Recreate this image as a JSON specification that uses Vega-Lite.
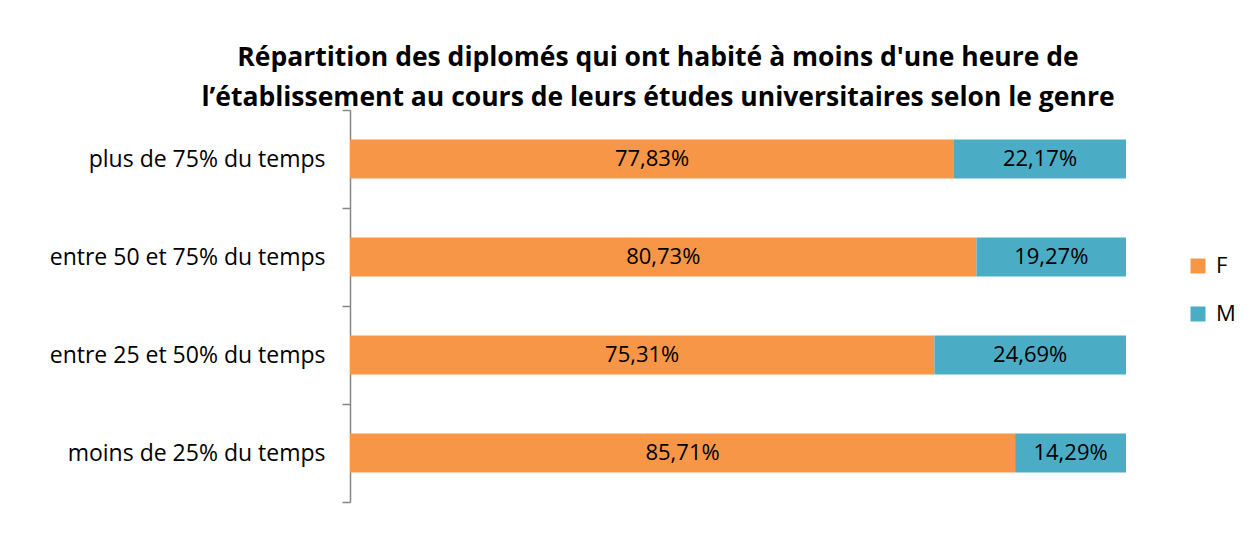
{
  "$schema": "https://vega.github.io/schema/vega-lite/v6.json",
  "width": 776,
  "height": 392,
  "autosize": {"type": "none"},
  "padding": {"left": 350, "top": 110, "right": 126, "bottom": 52},
  "background": "white",
  "title": {
    "text": ["Répartition des diplomés qui ont habité à moins d'une heure de", "l’établissement au cours de leurs études universitaires selon le genre"],
    "font": "Open Sans",
    "fontSize": 26.5,
    "fontWeight": "bold",
    "color": "#000000",
    "anchor": "middle",
    "dx": -80,
    "offset": -12,
    "lineHeight": 40
  },
  "config": {
    "view": {"stroke": null},
    "locale": {"number": {"decimal": ",", "thousands": " ", "grouping": [3], "currency": ["", " €"]}}
  },
  "data": {
    "values": [
      {"cat": "plus de 75% du temps", "genre": "F", "value": 0.7783},
      {"cat": "plus de 75% du temps", "genre": "M", "value": 0.2217},
      {"cat": "entre 50 et 75% du temps", "genre": "F", "value": 0.8073},
      {"cat": "entre 50 et 75% du temps", "genre": "M", "value": 0.1927},
      {"cat": "entre 25 et 50% du temps", "genre": "F", "value": 0.7531},
      {"cat": "entre 25 et 50% du temps", "genre": "M", "value": 0.2469},
      {"cat": "moins de 25% du temps", "genre": "F", "value": 0.8571},
      {"cat": "moins de 25% du temps", "genre": "M", "value": 0.1429}
    ]
  },
  "transform": [
    {"stack": "value", "groupby": ["cat"], "sort": [{"field": "genre", "order": "ascending"}], "as": ["v0", "v1"]},
    {"calculate": "(datum.v0 + datum.v1) / 2", "as": "mid"}
  ],
  "encoding": {
    "y": {
      "field": "cat",
      "type": "nominal",
      "sort": ["plus de 75% du temps", "entre 50 et 75% du temps", "entre 25 et 50% du temps", "moins de 25% du temps"],
      "scale": {"paddingInner": 0, "paddingOuter": 0},
      "axis": {
        "title": null,
        "tickBand": "extent",
        "labelFont": "Open Sans",
        "labelFontSize": 23,
        "labelColor": "#000000",
        "labelPadding": 17,
        "tickSize": 8,
        "tickColor": "#868686",
        "domainColor": "#868686",
        "tickWidth": 1.5,
        "domainWidth": 1.5,
        "labelLimit": 400
      }
    }
  },
  "layer": [
    {
      "mark": {"type": "bar", "height": {"band": 0.4}},
      "encoding": {
        "x": {"field": "v0", "type": "quantitative", "scale": {"domain": [0, 1], "nice": false}, "axis": null},
        "x2": {"field": "v1"},
        "color": {
          "field": "genre",
          "type": "nominal",
          "scale": {"domain": ["F", "M"], "range": ["#F79646", "#4BACC6"]},
          "legend": {
            "title": null,
            "orient": "none",
            "legendX": 837,
            "legendY": 145,
            "symbolType": "square",
            "symbolSize": 225,
            "symbolStrokeWidth": 0,
            "labelFont": "Open Sans",
            "labelFontSize": 22,
            "labelColor": "#000000",
            "rowPadding": 26,
            "labelOffset": 7
          }
        }
      }
    },
    {
      "mark": {"type": "text", "font": "Open Sans", "fontSize": 22, "color": "#000000"},
      "encoding": {
        "x": {"field": "mid", "type": "quantitative", "scale": {"domain": [0, 1], "nice": false}},
        "text": {"field": "value", "type": "quantitative", "format": ".2%"}
      }
    }
  ]
}
